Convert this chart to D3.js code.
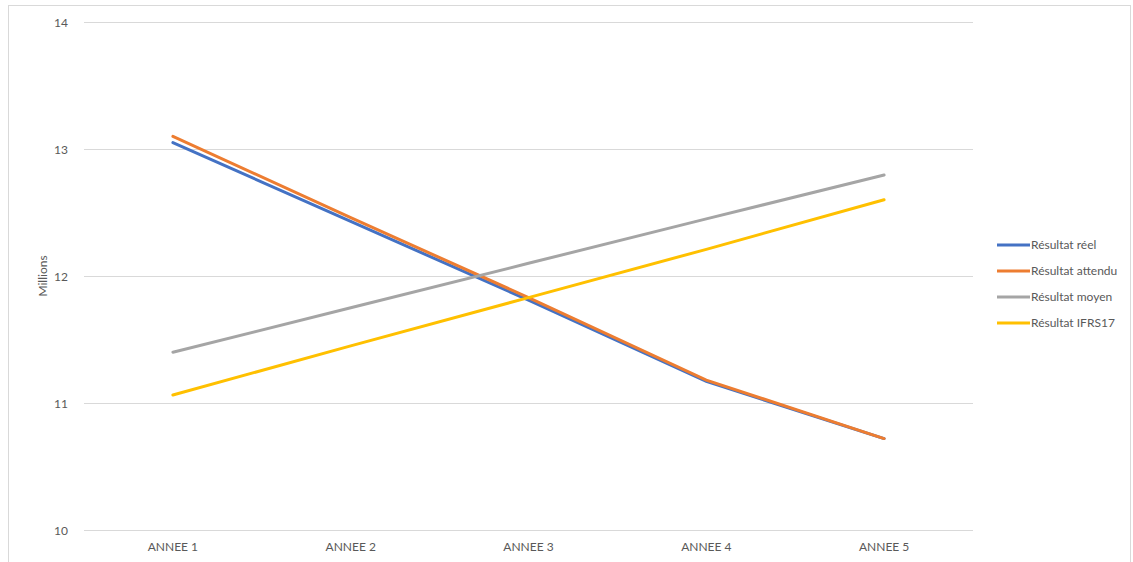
<!DOCTYPE html>
<html>
<head>
<meta charset="utf-8">
<script src="https://cdn.jsdelivr.net/npm/d3@7"></script>
<style>
  body { margin: 0; background: #fff; }
  text { font-family: Lato, "Noto Sans", sans-serif; fill: #595959; }
</style>
</head>
<body>
<div id="chart"></div>
<script>
const categories = ["ANNEE 1", "ANNEE 2", "ANNEE 3", "ANNEE 4", "ANNEE 5"];
const reel = [13.05, 12.43, 11.81, 11.17, 10.72];
const attendu = [13.10, 12.46, 11.83, 11.18, 10.72];
const moyen = [11.40, 11.75, 12.10, 12.45, 12.795];
const ifrs17 = [11.063, 11.45, 11.83, 12.21, 12.60];
const yTicks = [10, 11, 12, 13, 14];

const series = [
    { name: "Résultat réel", values: reel, color: "#4472C4" },
    { name: "Résultat attendu", values: attendu, color: "#ED7D31" },
    { name: "Résultat moyen", values: moyen, color: "#A5A5A5" },
    { name: "Résultat IFRS17", values: ifrs17, color: "#FFC000" }
];

let width = 1133, height = 562;
let margin = { top: 22, right: 160, bottom: 32, left: 84 };
let plotW = 973 - margin.left,
    plotH = 530 - margin.top;

let svg = d3.select("#chart")
    .append("svg")
    .attr("width", width)
    .attr("height", height);

// chart frame
svg.append("rect")
    .attr("x", 8.5).attr("y", 5.5)
    .attr("width", 1122).attr("height", 570)
    .attr("fill", "none")
    .attr("stroke", "#d9d9d9");

let g = svg.append("g")
    .attr("transform", "translate(" + margin.left + "," + margin.top + ")");

let x = d3.scaleBand()
    .domain(categories)
    .range([0, plotW]);

let y = d3.scaleLinear()
    .domain([10, 14])
    .range([plotH, 0]);

// gridlines
g.selectAll(".grid")
    .data(yTicks)
    .enter()
    .append("line")
    .attr("class", "grid")
    .attr("x1", 0).attr("x2", plotW)
    .attr("y1", d => Math.round(y(d)) + 0.5)
    .attr("y2", d => Math.round(y(d)) + 0.5)
    .attr("stroke", "#d9d9d9");

// y axis labels
let yAxis = g.append("g")
    .call(d3.axisLeft(y).tickValues(yTicks).tickFormat(d3.format("d")).tickSize(0).tickPadding(16));
yAxis.select(".domain").remove();
yAxis.selectAll("text")
    .style("font-size", "12px")
    .attr("fill", "#595959")
    .attr("dy", "0.35em");

// x axis labels
let xAxis = g.append("g")
    .attr("transform", "translate(0," + plotH + ")")
    .call(d3.axisBottom(x).tickSize(0).tickPadding(12));
xAxis.select(".domain").remove();
xAxis.selectAll("text")
    .style("font-size", "12px")
    .attr("fill", "#595959");

svg.append("text")
    .attr("transform", "translate(47," + (margin.top + plotH / 2) + ") rotate(-90)")
    .attr("text-anchor", "middle")
    .style("font-size", "12px")
    .text("Millions");

const line = d3.line()
    .x((d, i) => x(categories[i]) + x.bandwidth() / 2)
    .y(d => y(d));

g.selectAll(".series")
    .data(series)
    .enter()
    .append("path")
    .attr("class", "series")
    .attr("d", d => line(d.values))
    .attr("fill", "none")
    .attr("stroke", d => d.color)
    .attr("stroke-width", 3)
    .attr("stroke-linecap", "round");

// legend
let legend = svg.append("g")
    .attr("transform", "translate(997,245)");

let items = legend.selectAll(".item")
    .data(series)
    .enter()
    .append("g")
    .attr("class", "item")
    .attr("transform", (d, i) => "translate(0," + i * 26 + ")");

items.append("line")
    .attr("x1", 0).attr("x2", 33)
    .attr("stroke", d => d.color)
    .attr("stroke-width", 3);

items.append("text")
    .attr("x", 34)
    .attr("dy", "0.35em")
    .style("font-size", "12px")
    .text(d => d.name);
</script>
</body>
</html>
